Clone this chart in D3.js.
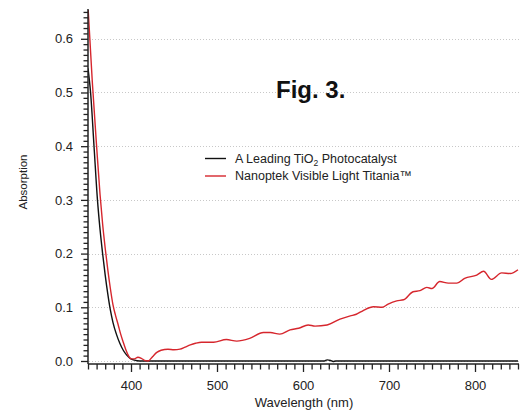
<!DOCTYPE html>
<html><head><meta charset="utf-8">
<script src="https://cdn.jsdelivr.net/npm/d3@7"></script>
<style>body{margin:0;background:#fff}svg{display:block;font-family:"Liberation Sans",Arial,sans-serif}</style>
</head><body>
<svg id="c" width="521" height="414"></svg>
<script>
const seriesNames = ["A Leading TiO\u2082 Photocatalyst", "Nanoptek Visible Light Titania\u2122"];
const blackWl = [350,353,357,361,364,367,370,373,376,379,383,387,391,395,399,404,410,500,600,625,628,632,635,638,700,800,850];
const blackAbs = [0.545,0.50,0.40,0.30,0.245,0.20,0.16,0.125,0.095,0.072,0.05,0.033,0.02,0.011,0.005,0.0015,0,0,0,0,0.002,0.001,-0.001,0,0,0,0];
const redWl = [350,355,360,364,367,370,373,376,379,382,385,388,391,394,397,400,404,408,412,416,420,425,430,435,443,450,457,463,469,475,482,496,511,523,538,554,562,573,585,595,606,614,628,643,655,662,670,682,692,699,709,717,728,736,744,750,759,769,779,788,802,810,819,831,841,850];
const redAbs = [0.66,0.52,0.40,0.31,0.255,0.21,0.17,0.135,0.105,0.085,0.068,0.05,0.035,0.021,0.01,0.004,0.004,0.007,0.005,0.001,0.0,0.008,0.016,0.020,0.022,0.021,0.022,0.026,0.030,0.033,0.035,0.035,0.040,0.037,0.042,0.053,0.053,0.050,0.058,0.061,0.067,0.065,0.067,0.078,0.084,0.087,0.094,0.101,0.100,0.106,0.112,0.114,0.129,0.131,0.137,0.135,0.148,0.145,0.145,0.154,0.160,0.167,0.152,0.164,0.163,0.170];
const xMajor = [400,500,600,700,800];
const yMajor = [0.0,0.1,0.2,0.3,0.4,0.5,0.6];
const xLabel = "Wavelength (nm)";
const yLabel = "Absorption";
const title = "Fig. 3.";
const colors = ["#111111", "#d6262d"];

const svg = d3.select("#c");
const x = d3.scaleLinear().domain([350, 850]).range([88, 518]);
const y = d3.scaleLinear().domain([-0.0056, 0.6536]).range([364, 10]);

// gridlines
svg.append("g").selectAll("line").data(yMajor).join("line")
  .attr("x1", 89).attr("x2", 519)
  .attr("y1", d => Math.round(y(d)) + 0.5).attr("y2", d => Math.round(y(d)) + 0.5)
  .attr("stroke", "#c8c8c8").attr("stroke-width", 1).attr("stroke-dasharray", "1,2");

// clip
svg.append("clipPath").attr("id", "clip").append("rect")
  .attr("x", 88).attr("y", 10).attr("width", 432).attr("height", 354);

const line = d3.line().x(d => x(d[0])).y(d => y(d[1])).curve(d3.curveMonotoneX);
const blackData = blackWl.map((w, i) => [w, blackAbs[i]]);
const redData = redWl.map((w, i) => [w, redAbs[i]]);
const gData = svg.append("g").attr("clip-path", "url(#clip)");
gData.append("path").attr("d", line(blackData)).attr("fill", "none").attr("stroke", colors[0]).attr("stroke-width", 1.4);
gData.append("path").attr("d", line(redData)).attr("fill", "none").attr("stroke", colors[1]).attr("stroke-width", 1.4);

// axes
const xMinor = d3.range(350, 851, 10).filter(v => !xMajor.includes(v));
const yMinor = d3.range(0, 66).map(i => i / 100).filter(v => !yMajor.some(m => Math.abs(m - v) < 1e-9));
const xAxisMinor = d3.axisBottom(x).tickValues(xMinor).tickSize(5.5).tickFormat("");
const xAxisMajor = d3.axisBottom(x).tickValues(xMajor).tickSize(8).tickPadding(9).tickFormat(d3.format("d"));
const yAxisMinor = d3.axisLeft(y).tickValues(yMinor).tickSize(4.5).tickFormat("");
const yAxisMajor = d3.axisLeft(y).tickValues(yMajor).tickSize(7).tickPadding(8).tickFormat(d3.format(".1f"));

function style(g) {
  g.selectAll(".domain").remove();
  g.selectAll("line").attr("stroke", "#222").attr("stroke-width", 1.3);
  g.selectAll("text").attr("fill", "#222").style("font-size", "13px").style("font-family", '"Liberation Sans",Arial,sans-serif');
}
svg.append("g").attr("transform", "translate(0,364)").call(xAxisMinor).call(style);
svg.append("g").attr("transform", "translate(0,364)").call(xAxisMajor).call(style);
svg.append("g").attr("transform", "translate(88,0)").call(yAxisMinor).call(style);
svg.append("g").attr("transform", "translate(88,0)").call(yAxisMajor).call(style);
// axis lines
svg.append("line").attr("x1", 88).attr("x2", 519).attr("y1", 364).attr("y2", 364).attr("stroke", "#222").attr("stroke-width", 1.5);
svg.append("line").attr("x1", 88).attr("x2", 88).attr("y1", 9).attr("y2", 364).attr("stroke", "#222").attr("stroke-width", 1.5);

// axis labels
svg.append("text").attr("x", 304).attr("y", 407).attr("text-anchor", "middle").style("font-size", "13px").attr("fill", "#222").text(xLabel);
svg.append("text").attr("transform", "translate(26.5,182) rotate(-90)").attr("text-anchor", "middle").style("font-size", "11.5px").attr("fill", "#222").text(yLabel);

// title
svg.append("text").attr("x", 276).attr("y", 98).style("font-size", "24px").style("font-weight", "bold").attr("fill", "#111").text(title);

// legend
const leg = svg.append("g");
const legY = [158.5, 176];
seriesNames.forEach((n, i) => {
  leg.append("line").attr("x1", 205).attr("x2", 226).attr("y1", legY[i]).attr("y2", legY[i]).attr("stroke", colors[i]).attr("stroke-width", 1.4);
});
const t1 = leg.append("text").attr("x", 235).attr("y", legY[0] + 4).style("font-size", "12.5px").attr("fill", "#222");
t1.append("tspan").text("A Leading TiO");
t1.append("tspan").attr("dy", 3).style("font-size", "8.5px").text("2");
t1.append("tspan").attr("dy", -3).text(" Photocatalyst");
leg.append("text").attr("x", 235).attr("y", legY[1] + 4).style("font-size", "12.5px").attr("fill", "#222").text(seriesNames[1]);
</script>
</body></html>
